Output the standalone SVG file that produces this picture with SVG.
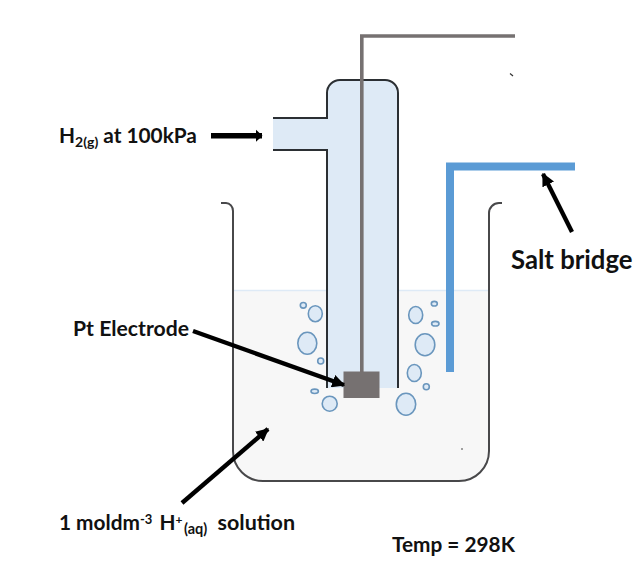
<svg xmlns="http://www.w3.org/2000/svg" width="642" height="561" viewBox="0 0 642 561">
<defs>
<style>
.glass{fill:none;stroke:#48484a;stroke-width:2}
.tube{fill:none;stroke:#2b2f33;stroke-width:2}
.bub{fill:#deeaf6;stroke:#6a96bd;stroke-width:1.6}
.wire{fill:none;stroke:#767171;stroke-width:3.6}
.arr{fill:none;stroke:#000;stroke-width:4.400}
.lab{font-family:"Lato","Carlito","Liberation Sans",sans-serif;font-weight:700;fill:#111;font-size:20.800px}
</style>
<marker id="ah" viewBox="0 0 10 10" refX="9" refY="5" markerWidth="13" markerHeight="13" markerUnits="userSpaceOnUse" orient="auto"><path d="M0 0L10 5L0 10Z" fill="#000"/></marker>
<marker id="ahs" viewBox="0 0 7 13" refX="6.500" refY="6.500" markerWidth="7" markerHeight="13" markerUnits="userSpaceOnUse" orient="auto"><path d="M0 0L7 6.500L0 13Z" fill="#000"/></marker>
</defs>
<rect width="642" height="561" fill="#fff"/>
<g id="beaker">
<path d="M233 290H489V451A30 30 0 0 1 459 481H263A30 30 0 0 1 233 451Z" fill="#f7f7f7"/>
<path d="M233 290.500H489" stroke="#deeaf6" stroke-width="1.500" fill="none"/>
<path class="glass" d="M221 203H226A7 8 0 0 1 233 211V451A30 30 0 0 0 263 481H459A30 30 0 0 0 489 451V213A10 10 0 0 1 499 203H502"/>
</g>
<g id="gas-tube">
<path d="M273 118H327V93A13 13 0 0 1 340 80H385A13 13 0 0 1 398 93V388H327V150H273Z" fill="#deeaf6"/>
<path class="tube" d="M273 118H327V93A13 13 0 0 1 340 80H385A13 13 0 0 1 398 93V388M327 388V150H273"/>
</g>
<g id="bubbles">
<ellipse class="bub" cx="303.300" cy="305.300" rx="3" ry="2.800"/>
<ellipse class="bub" cx="315.300" cy="313.700" rx="7" ry="8"/>
<ellipse class="bub" cx="307.300" cy="343.300" rx="9.500" ry="11"/>
<ellipse class="bub" cx="320.700" cy="361" rx="3" ry="3"/>
<ellipse class="bub" cx="314.700" cy="391.300" rx="3.700" ry="2.200"/>
<ellipse class="bub" cx="329.700" cy="403.700" rx="7.500" ry="7.500"/>
<ellipse class="bub" cx="415.700" cy="315" rx="7" ry="8.500"/>
<ellipse class="bub" cx="434.300" cy="303.700" rx="3" ry="2.300"/>
<ellipse class="bub" cx="435.300" cy="323.700" rx="3.700" ry="2.300"/>
<ellipse class="bub" cx="425" cy="344.700" rx="9.800" ry="11"/>
<ellipse class="bub" cx="414.300" cy="373" rx="7" ry="8.500"/>
<ellipse class="bub" cx="426.300" cy="386.700" rx="3" ry="3"/>
<ellipse class="bub" cx="406" cy="404.300" rx="9.700" ry="11"/>
</g>
<g id="electrode">
<path class="wire" d="M515 36H361.800V372"/>
<rect x="343.500" y="371.500" width="36" height="26.500" fill="#767171"/>
</g>
<g id="salt-bridge">
<path d="M575 166.500H450V372" fill="none" stroke="#5b9bd5" stroke-width="8"/>
</g>
<g id="specks">
<path d="M510 73.500L513 76" stroke="#333" stroke-width="1.200" fill="none"/>
<circle cx="462" cy="449" r="0.800" fill="#333"/>
</g>
<g id="connectors">
<path class="arr" marker-end="url(#ahs)" d="M211 135.700H262" style="stroke-width:5.500"/>
<path class="arr" marker-end="url(#ah)" d="M193 331L344 385"/>
<path class="arr" marker-end="url(#ah)" d="M572 232L543 174"/>
<path class="arr" marker-end="url(#ah)" d="M182 503L268 429"/>
</g>
<g id="labels">
<text class="lab" x="59" y="142.500">H<tspan font-size="14" dy="4">2(g)</tspan><tspan dy="-4"> at 100kPa</tspan></text>
<text class="lab" x="73" y="336" style="font-size:21.200px">Pt Electrode</text>
<text class="lab" x="511" y="269" style="font-size:25.700px">Salt bridge</text>
<text class="lab" x="59" y="529.500">1 moldm<tspan font-size="13" dy="-6">-3</tspan><tspan x="159.500" dy="6">H</tspan><tspan font-size="12" dy="-6">+</tspan><tspan x="184" font-size="14.500" dy="10">(aq)</tspan><tspan x="217.500" dy="-4" style="font-size:21.500px">solution</tspan></text>
<text class="lab" x="392" y="552">Temp = 298K</text>
</g>
</svg>
